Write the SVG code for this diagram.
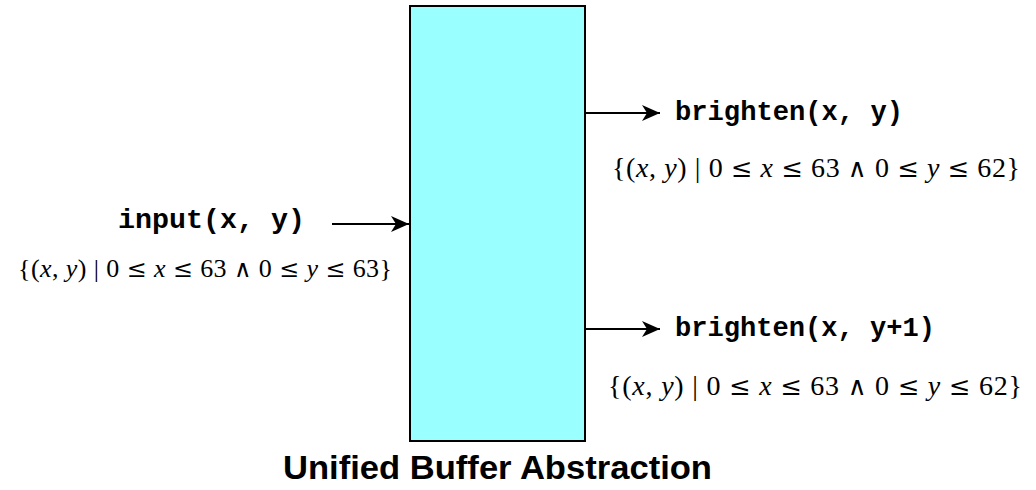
<svg xmlns="http://www.w3.org/2000/svg" width="1036" height="490" viewBox="0 0 1036 490">
<style>
.code{font-family:"Liberation Mono","Courier New",monospace;font-weight:bold;font-size:27px;fill:#000}
.math{font-family:"Liberation Serif","DejaVu Serif",serif;font-size:28px;fill:#000}
.v{font-style:italic}
.s{font-family:"DejaVu Serif",serif;font-size:0.92em}
.title{font-family:"Liberation Sans",Arial,sans-serif;font-weight:bold;font-size:33px;fill:#000}
.conn{stroke:#000;stroke-width:2;fill:none}
</style>
<defs>
<marker id="ah" markerUnits="userSpaceOnUse" markerWidth="20" markerHeight="18" refX="18" refY="9" orient="auto">
<path d="M0,1 L18,9 L0,17 L5,9 Z" fill="#000"/>
</marker>
</defs>
<g id="buffer">
<rect x="410" y="6" width="175" height="435" fill="#99ffff" stroke="#000" stroke-width="2"/>
</g>
<g id="input">
<text class="code" x="118" y="228" textLength="187" lengthAdjust="spacingAndGlyphs">input(x, y)</text>
<text class="math" x="18" y="277" textLength="374" lengthAdjust="spacing" style="font-size:26px">{(<tspan class="v">x</tspan>, <tspan class="v">y</tspan>) | 0 <tspan class="s">≤</tspan> <tspan class="v">x</tspan> <tspan class="s">≤</tspan> 63 <tspan class="s">∧</tspan> 0 <tspan class="s">≤</tspan> <tspan class="v">y</tspan> <tspan class="s">≤</tspan> 63}</text>
</g>
<g id="out1">
<text class="code" x="675" y="120" textLength="228" lengthAdjust="spacingAndGlyphs">brighten(x, y)</text>
<text class="math" x="612" y="177" textLength="408" lengthAdjust="spacing">{(<tspan class="v">x</tspan>, <tspan class="v">y</tspan>) | 0 <tspan class="s">≤</tspan> <tspan class="v">x</tspan> <tspan class="s">≤</tspan> 63 <tspan class="s">∧</tspan> 0 <tspan class="s">≤</tspan> <tspan class="v">y</tspan> <tspan class="s">≤</tspan> 62}</text>
</g>
<g id="out2">
<text class="code" x="675" y="336" textLength="260" lengthAdjust="spacingAndGlyphs">brighten(x, y+1)</text>
<text class="math" x="608" y="395" textLength="414" lengthAdjust="spacing">{(<tspan class="v">x</tspan>, <tspan class="v">y</tspan>) | 0 <tspan class="s">≤</tspan> <tspan class="v">x</tspan> <tspan class="s">≤</tspan> 63 <tspan class="s">∧</tspan> 0 <tspan class="s">≤</tspan> <tspan class="v">y</tspan> <tspan class="s">≤</tspan> 62}</text>
</g>
<g id="connectors">
<line class="conn" x1="332" y1="224" x2="409" y2="224" marker-end="url(#ah)"/>
<line class="conn" x1="586" y1="113" x2="660" y2="113" marker-end="url(#ah)"/>
<line class="conn" x1="586" y1="329" x2="660" y2="329" marker-end="url(#ah)"/>
</g>
<g id="caption">
<text class="title" x="497.5" y="479" text-anchor="middle" textLength="429" lengthAdjust="spacingAndGlyphs">Unified Buffer Abstraction</text>
</g>
</svg>
